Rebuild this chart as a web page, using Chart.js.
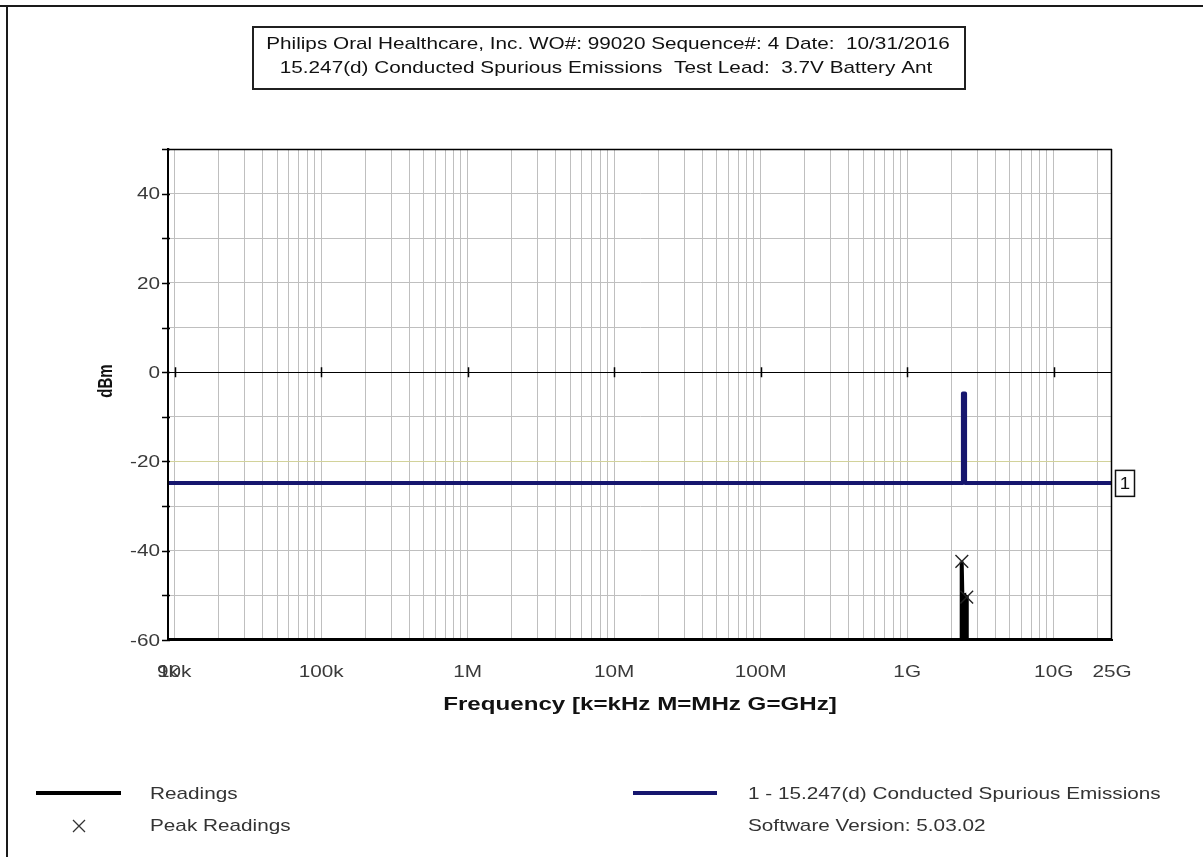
<!DOCTYPE html>
<html>
<head>
<meta charset="utf-8">
<title>15.247(d) Conducted Spurious Emissions</title>
<script src="https://cdn.jsdelivr.net/npm/chart.js@4.4.1/dist/chart.umd.min.js"></script>
<style>
  html, body { margin: 0; padding: 0; background: #ffffff; }
  canvas { display: block; }
</style>
</head>
<body>
<canvas id="emissions" width="1203" height="857"></canvas>
<script>
// ---- Measurement data ----------------------------------------------------
// Frequency axis (Hz) and its labelled positions
const frequencyTicks = [9e3, 1e4, 1e5, 1e6, 1e7, 1e8, 1e9, 1e10, 25e9];
const frequencyTickLabels = ['9k', '10k', '100k', '1M', '10M', '100M', '1G', '10G', '25G'];
// Level axis (dBm)
const levelTicks = [-60, -40, -20, 0, 20, 40];
const levelTickLabels = ['-60', '-40', '-20', '0', '20', '40'];

// Sweep readings (Hz, dBm): noise floor with the 2.4 GHz carrier cluster
const readingsFreq = [9e3, 2.35e9, 2.35e9, 2.36e9, 2.38e9, 2.45e9, 2.45e9, 2.50e9, 2.50e9, 2.55e9, 2.55e9, 25e9];
const readingsLevel = [-60, -60, -50.2, -42.4, -50.3, -50.1, -60, -60, -50.2, -50.4, -60, -60];

// Peak readings (Hz, dBm)
const peakFreq = [2.36e9, 2.55e9];
const peakLevel = [-42.4, -50.4];

// Limit line 1 - 15.247(d): 20 dB below the in-band level, in-band excluded
const limitFreq = [9e3, 2.4e9, 2.4e9, 2.4835e9, 2.4835e9, 25e9];
const limitLevel = [-24.8, -24.8, -4.8, -4.8, -24.8, -24.8];

// Text
const titleLines = [
  'Philips Oral Healthcare, Inc. WO#: 99020 Sequence#: 4 Date:  10/31/2016',
  '15.247(d) Conducted Spurious Emissions  Test Lead:  3.7V Battery Ant'
];
const xAxisTitle = 'Frequency [k=kHz M=MHz G=GHz]';
const yAxisTitle = 'dBm';
const limitTag = '1';
const legendLeft = ['Readings', 'Peak Readings'];
const legendRight = ['1 - 15.247(d) Conducted Spurious Emissions', 'Software Version: 5.03.02'];

// ---- Drawing helpers -----------------------------------------------------
const FONT = '"Liberation Sans", Arial, sans-serif';
const SX = 1.22;          // wide text rendering used throughout the report
const INK = '#222222';
const NAVY = '#16166e';

function wideText(ctx, text, x, y, size, align, opts) {
  opts = opts || {};
  ctx.save();
  ctx.font = (opts.bold ? 'bold ' : '') + size + 'px ' + FONT;
  ctx.fillStyle = opts.color || INK;
  ctx.textBaseline = 'middle';
  ctx.textAlign = align;
  ctx.translate(x, y);
  ctx.scale(opts.sx || SX, 1);
  if (opts.rotate) ctx.rotate(opts.rotate);
  ctx.fillText(text, 0, 0);
  ctx.restore();
}

function pairs(xs, ys) {
  return xs.map((x, i) => ({ x: x, y: ys[i] }));
}

// Grid positions at 1..9 x each decade inside the frequency span
function decadeGrid(min, max) {
  const out = [];
  for (let e = 3; e <= 10; e++) {
    for (let m = 1; m <= 9; m++) {
      const v = m * Math.pow(10, e);
      if (v >= min && v <= max) out.push({ value: v });
    }
  }
  return out;
}

const reportDecor = {
  id: 'reportDecor',
  beforeDraw(chart) {
    const ctx = chart.ctx;
    ctx.save();
    ctx.fillStyle = '#ffffff';
    ctx.fillRect(0, 0, chart.width, chart.height);
    // page frame (top and left edges)
    ctx.strokeStyle = '#1a1a1a';
    ctx.lineWidth = 2;
    ctx.beginPath();
    ctx.moveTo(0, 6); ctx.lineTo(chart.width, 6);
    ctx.moveTo(7, 5); ctx.lineTo(7, chart.height);
    ctx.stroke();
    // title box
    ctx.strokeStyle = '#202020';
    ctx.lineWidth = 2;
    ctx.strokeRect(253, 27, 712, 62);
    ctx.restore();
    wideText(ctx, titleLines[0], 608, 44.5, 17, 'center', { color: '#111' });
    wideText(ctx, titleLines[1], 606, 68.5, 17, 'center', { color: '#111' });
  },
  afterDatasetsDraw(chart) {
    const ctx = chart.ctx;
    const xs = chart.scales.x, ys = chart.scales.y;
    const a = chart.chartArea;
    ctx.save();
    // plot frame
    ctx.strokeStyle = '#000';
    ctx.lineWidth = 1.5;
    ctx.beginPath();
    ctx.moveTo(a.left, a.top + 0.5); ctx.lineTo(a.right, a.top + 0.5);
    ctx.moveTo(a.right - 0.5, a.top); ctx.lineTo(a.right - 0.5, a.bottom);
    ctx.stroke();
    ctx.lineWidth = 2;
    ctx.beginPath();
    ctx.moveTo(a.left, a.top); ctx.lineTo(a.left, a.bottom + 1);
    ctx.stroke();
    // level tick marks (every 10 dB) on the left axis
    ctx.lineWidth = 1.5;
    ctx.beginPath();
    for (let v = -60; v <= 50; v += 10) {
      const y = Math.round(ys.getPixelForValue(v)) + 0.5;
      ctx.moveTo(a.left - 6, y); ctx.lineTo(a.left + 2, y);
    }
    ctx.stroke();
    // decade tick marks on the 0 dBm line
    const y0 = ys.getPixelForValue(0);
    ctx.beginPath();
    for (let e = 4; e <= 10; e++) {
      const x = Math.round(xs.getPixelForValue(Math.pow(10, e))) + 0.5;
      ctx.moveTo(x, y0 - 5); ctx.lineTo(x, y0 + 5);
    }
    ctx.stroke();
    // limit line tag
    const yl = ys.getPixelForValue(limitLevel[limitLevel.length - 1]);
    ctx.fillStyle = '#fff';
    ctx.fillRect(a.right + 3, yl - 13, 19, 26);
    ctx.strokeStyle = '#111';
    ctx.lineWidth = 1.5;
    ctx.strokeRect(a.right + 3.5, yl - 12.5, 19, 26);
    ctx.restore();
    wideText(ctx, limitTag, a.right + 13, yl + 1, 17, 'center', { color: '#111', sx: 1.1 });

    // tick labels
    frequencyTicks.forEach((v, i) => {
      wideText(ctx, frequencyTickLabels[i], xs.getPixelForValue(v), 672, 17, 'center', { color: '#3a3a3a' });
    });
    levelTicks.forEach((v, i) => {
      wideText(ctx, levelTickLabels[i], a.left - 8, ys.getPixelForValue(v) + 1, 17, 'right', { color: '#3a3a3a' });
    });
    // axis titles
    wideText(ctx, xAxisTitle, (a.left + a.right) / 2, 705, 19, 'center', { bold: true, color: '#111', sx: 1.27 });
    wideText(ctx, yAxisTitle, 106, ys.getPixelForValue(-2), 15, 'center', { bold: true, color: '#111', rotate: -Math.PI / 2, sx: 1.35 });

    // legend
    ctx.save();
    ctx.lineWidth = 4;
    ctx.strokeStyle = '#000';
    ctx.beginPath(); ctx.moveTo(36, 793); ctx.lineTo(121, 793); ctx.stroke();
    ctx.strokeStyle = NAVY;
    ctx.beginPath(); ctx.moveTo(633, 793); ctx.lineTo(717, 793); ctx.stroke();
    ctx.strokeStyle = '#333';
    ctx.lineWidth = 1.3;
    ctx.beginPath();
    ctx.moveTo(73, 820); ctx.lineTo(85, 832);
    ctx.moveTo(85, 820); ctx.lineTo(73, 832);
    ctx.stroke();
    ctx.restore();
    wideText(ctx, legendLeft[0], 150, 794, 17, 'left', { color: '#333' });
    wideText(ctx, legendLeft[1], 150, 826, 17, 'left', { color: '#333' });
    wideText(ctx, legendRight[0], 748, 794, 17, 'left', { color: '#333' });
    wideText(ctx, legendRight[1], 748, 826, 17, 'left', { color: '#333' });
  }
};

const chart = new Chart(document.getElementById('emissions'), {
  type: 'line',
  data: {
    datasets: [
      {
        label: 'Peak Readings',
        data: pairs(peakFreq, peakLevel),
        showLine: false,
        pointStyle: 'crossRot',
        pointRadius: 9,
        pointBorderWidth: 1.4,
        pointBorderColor: '#222',
        order: 0
      },
      {
        label: 'Readings',
        data: pairs(readingsFreq, readingsLevel),
        borderColor: '#000',
        borderWidth: 4,
        borderJoinStyle: 'miter',
        pointRadius: 0,
        tension: 0,
        order: 1
      },
      {
        label: '1 - 15.247(d) Conducted Spurious Emissions',
        data: pairs(limitFreq, limitLevel),
        borderColor: NAVY,
        borderWidth: 4,
        borderCapStyle: 'round',
        borderJoinStyle: 'round',
        pointRadius: 0,
        tension: 0,
        order: 2
      }
    ]
  },
  options: {
    responsive: false,
    animation: false,
    events: [],
    layout: { padding: { left: 168, right: 91, top: 149, bottom: 217 } },
    plugins: { legend: { display: false }, tooltip: { enabled: false }, title: { display: false } },
    scales: {
      x: {
        type: 'logarithmic',
        min: 9e3,
        max: 25e9,
        afterBuildTicks(scale) { scale.ticks = decadeGrid(scale.min, scale.max); },
        ticks: { display: false },
        grid: { color: '#bfbfbf', lineWidth: 1, drawTicks: false },
        border: { display: true, color: '#000', width: 2 },
        title: { display: false }
      },
      y: {
        type: 'linear',
        min: -60,
        max: 50,
        ticks: { display: false, stepSize: 10 },
        grid: {
          drawTicks: false,
          lineWidth: 1,
          color(c) {
            if (c.tick && c.tick.value === 0) return '#000000';
            if (c.tick && c.tick.value === -20) return '#d2d29a';
            return '#bfbfbf';
          }
        },
        border: { display: true, color: '#000', width: 2 },
        title: { display: false }
      }
    }
  },
  plugins: [reportDecor]
});
</script>
</body>
</html>
